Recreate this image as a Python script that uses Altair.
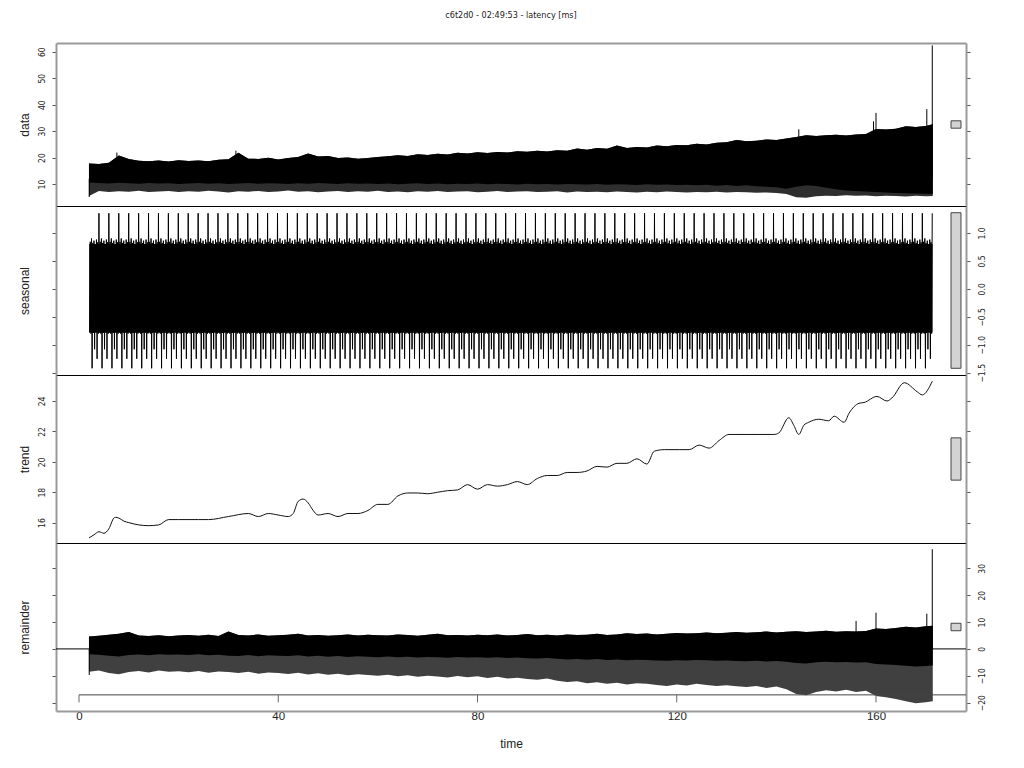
import altair as alt
import pandas as pd

# ---------------- values ----------------
t_env = list(range(2, 171, 2)) + [171.4]

data_hi = [17.8, 17.6, 18.0, 20.8, 19.5, 18.8, 18.6, 18.9, 18.5, 19.0,
           18.7, 18.9, 18.6, 19.2, 19.4, 21.8, 19.6, 19.5, 19.9, 19.3,
           19.8, 20.2, 21.5, 20.4, 20.6, 19.8, 20.0, 19.6, 19.8, 20.2,
           20.5, 20.9, 20.6, 21.3, 21.0, 21.4, 21.2, 21.8, 21.5, 22.0,
           21.7, 22.1, 21.9, 22.4, 22.2, 22.6, 22.3, 22.8, 22.6, 23.4,
           23.0, 23.6, 23.3, 24.6, 23.6, 24.0, 23.8, 24.6, 24.3, 24.8,
           24.7, 25.2, 24.9, 25.6, 25.8, 26.6, 26.2, 26.4, 26.8, 26.6,
           27.2, 27.8, 28.4, 28.2, 28.4, 28.6, 28.3, 28.7, 28.9, 30.8,
           30.6, 30.9, 31.8, 31.6, 31.9, 32.6]
data_core = [10.6, 10.4, 10.2, 10.5, 10.3, 10.1, 10.4, 10.2, 10.3, 10.0,
             10.2, 10.4, 10.1, 10.3, 10.0, 10.2, 10.4, 10.1, 10.3, 10.2,
             10.0, 10.3, 10.1, 10.4, 10.2, 10.0, 10.3, 10.1, 10.2, 10.0,
             10.2, 9.9, 10.1, 10.3, 10.0, 10.2, 9.9, 10.1, 10.0, 10.2,
             9.9, 10.1, 10.0, 9.8, 10.1, 9.9, 10.0, 9.8, 10.0, 9.9,
             9.8, 10.0, 9.7, 9.9, 9.8, 9.6, 9.9, 9.7, 9.8, 9.6,
             9.7, 9.5, 9.7, 9.4, 9.6, 9.3, 9.5, 9.2, 9.0, 8.8,
             8.2, 9.0, 9.5, 9.3, 8.6, 8.0, 7.6, 7.4, 7.2, 7.0,
             6.8, 6.6, 6.5, 6.4, 6.3, 6.2]
data_lo = [5.5, 7.4, 7.0, 7.3, 7.1, 7.5, 7.0, 7.2, 7.4, 7.0,
           7.3, 7.1, 7.5, 7.2, 6.8, 7.3, 7.1, 7.4, 7.0, 7.2,
           7.6, 7.1, 7.3, 6.9, 7.2, 7.4, 7.0, 7.3, 7.1, 7.5,
           7.0, 7.2, 6.9, 7.3, 7.1, 7.4, 7.0, 7.2, 7.3, 6.9,
           7.1, 7.4, 7.0, 7.2, 7.3, 7.0, 7.1, 7.3, 6.8, 7.2,
           7.0, 7.1, 6.9, 7.2, 7.0, 6.8, 7.1, 6.9, 7.2, 7.0,
           6.8, 7.0, 6.9, 7.1, 6.8, 7.0, 6.9, 6.7, 6.8, 6.6,
           6.2, 5.0, 4.8, 5.4, 5.6, 5.5, 5.8, 5.6, 5.7, 5.4,
           5.6, 5.5, 5.3, 5.6, 5.4, 5.5]
data_spike_t = [2.05, 7.6, 31.5, 144.5, 159.5, 160.0, 170.2, 171.3]
data_spike_v = [5.1, 21.9, 22.6, 30.7, 33.7, 36.9, 38.3, 62.4]

seasonal_shape = [1.35, -0.78, 0.84, -0.80, 0.90, -1.42, 0.82, -0.79,
                  0.86, -1.08, 0.80, -0.78, 0.88, -1.25, 0.83, -0.80]
seasonal_core_lo, seasonal_core_hi = -0.78, 0.80
seasonal_spike0 = 4.0
seasonal_period = 1.9916
seasonal_first = 2.05
seasonal_last = 171.35

trend_t = [2, 3, 4, 5, 6, 7, 7.3, 8, 9, 10, 12, 14, 16, 18, 20, 24, 26, 30, 34, 36,
           38, 40, 42, 43, 44, 45, 46, 47, 48, 50, 52, 54, 56, 58, 60, 62, 64, 66,
           68, 70, 72, 74, 76, 78, 80, 82, 84, 86, 88, 90, 92, 94, 96, 98, 100,
           102, 104, 106, 108, 110, 112, 114, 115.5, 117.5, 120.5, 122.5, 124.5,
           126.5, 128.5, 130.5, 132.5, 134.5, 136.5, 139.5, 140.5, 142.5, 143.5,
           144.5, 145.5, 146.5, 148.5, 150.5, 151.6, 153.6, 154.6, 156.6, 157.6,
           160.2, 162.2, 163.2, 165.7, 168.3, 169.3, 171.3]
trend_v = [14.99, 15.2, 15.4, 15.3, 15.6, 16.3, 16.35, 16.3, 16.1, 16.0, 15.85, 15.8,
           15.85, 16.2, 16.2, 16.2, 16.2, 16.4, 16.6, 16.4, 16.6, 16.5, 16.4, 16.6,
           17.4, 17.55, 17.3, 16.8, 16.5, 16.6, 16.4, 16.6, 16.6, 16.8, 17.2, 17.2,
           17.75, 17.95, 17.95, 17.9, 18.0, 18.1, 18.15, 18.5, 18.2, 18.5, 18.4,
           18.5, 18.7, 18.5, 18.9, 19.1, 19.1, 19.3, 19.3, 19.4, 19.7, 19.65, 19.9,
           19.9, 20.2, 19.85, 20.7, 20.8, 20.8, 20.8, 21.1, 20.9, 21.4, 21.8, 21.8,
           21.8, 21.8, 21.8, 21.9, 22.9, 22.4, 21.8, 22.4, 22.6, 22.8, 22.7, 23.0,
           22.6, 23.2, 23.85, 23.9, 24.3, 24.0, 24.2, 25.2, 24.6, 24.4, 25.3]

rem_hi = [4.6, 4.9, 5.3, 5.6, 6.3, 5.0, 4.8, 5.1, 4.7, 5.0,
          5.2, 4.9, 5.3, 4.8, 6.5, 5.2, 5.0, 5.4, 4.9, 5.1,
          5.3, 5.6, 5.0, 5.2, 4.9, 5.1, 5.4, 5.0, 5.3, 5.1,
          5.0, 5.4, 5.2, 4.9, 5.3, 5.6, 5.1, 5.2, 5.0, 5.3,
          5.1, 5.4, 5.0, 5.2, 5.5, 5.1, 5.3, 5.0, 5.4, 5.2,
          5.3, 5.6, 5.2, 5.4, 5.8, 5.5, 5.7, 5.4, 5.6, 5.9,
          5.7, 5.8, 6.1, 5.8, 6.0, 6.3, 6.0, 6.2, 6.5, 6.1,
          6.4, 6.6, 6.3, 6.5, 6.8, 6.4, 6.6, 6.5, 6.7, 7.6,
          7.4, 7.8, 8.2, 8.0, 8.4, 8.6]
rem_core = [-2.0, -2.2, -2.5, -2.8, -2.3, -2.1, -2.4, -2.0, -2.2, -2.1,
            -2.3, -2.0, -2.4, -2.2, -2.5, -2.6, -2.3, -2.7, -2.4, -2.5,
            -2.6, -2.4, -2.8, -2.5, -2.9, -2.6, -3.0, -2.7, -2.9, -3.1,
            -2.8, -3.1, -2.9, -3.2, -3.0, -3.1, -3.3, -3.0, -3.2, -3.1,
            -3.3, -3.1, -3.4, -3.2, -3.5, -3.6, -3.4, -3.7, -3.9, -3.8,
            -4.0, -3.8, -4.1, -3.9, -4.2, -4.0, -4.1, -4.3, -4.4, -4.2,
            -4.3, -4.1, -4.2, -4.4, -4.3, -4.5, -4.6, -4.4, -4.7, -4.5,
            -4.8, -5.2, -5.4, -5.0, -4.8, -5.0, -4.9, -5.1, -5.0, -5.6,
            -5.8, -6.0, -6.3, -6.5, -6.4, -6.2]
rem_lo = [-8.5, -8.0, -9.0, -9.4, -8.6, -8.2, -8.8, -8.0, -8.5, -8.3,
          -8.7, -8.2, -8.9, -8.4, -8.6, -9.0, -8.5, -9.2, -8.8, -9.0,
          -9.3, -8.9, -9.5, -9.1, -9.6, -9.2, -9.8, -9.4, -9.7, -10.0,
          -9.6, -10.2, -9.8, -10.4, -10.0, -10.3, -10.6, -10.1, -10.5, -10.2,
          -10.8, -10.4, -11.0, -10.7, -11.2, -11.5, -11.0, -11.8, -12.3, -12.0,
          -12.8, -12.4, -13.0, -12.6, -13.2, -12.8, -13.0, -13.4, -13.8, -13.2,
          -13.6, -13.0, -13.4, -13.8, -13.5, -13.9, -14.2, -13.8, -14.5, -14.0,
          -15.0, -16.8, -17.2, -16.0, -15.4, -15.8, -15.2, -16.0, -15.6, -17.5,
          -18.0, -18.6, -19.5, -20.2, -19.8, -19.5]
rem_spike_t = [2.05, 156.0, 160.0, 170.2, 171.3]
rem_spike_v = [-9.7, 10.4, 13.5, 13.1, 37.1]

x_ticks = [0, 40, 80, 120, 160]
data_ticks = [10, 20, 30, 40, 50, 60]
seasonal_ticks = [-1.5, -1.0, -0.5, 0.0, 0.5, 1.0]
trend_ticks = [16, 18, 20, 22, 24]
rem_ticks = [-20, -10, 0, 10, 20, 30]

# ---------------- layout / style ----------------
XMIN, XMAX = -4.62, 178.07
W = 910
H = [163, 169, 168, 168]
DOM_DATA = [1.7, 63.3]
DOM_SEAS = [-1.54, 1.48]
DOM_TREND = [14.66, 25.71]
DOM_REM = [-23.1, 39.4]
BAR_T0, BAR_T1 = 175.06, 177.06
BAR_HALF = 1.39
INNER_AXIS_Y, INNER_TICK_Y = -17.1, -19.9

LABEL_FONT = "Liberation Sans Narrow, DejaVu Sans Condensed, Liberation Sans, sans-serif"
TEXT_FONT = "Liberation Sans, Arial, sans-serif"
FRAME_GRAY = "#9a9a9a"

xs = alt.Scale(domain=[XMIN, XMAX], nice=False, zero=False)


def y_axis(side, values, fmt, show_labels, title, h):
    kw = dict(orient=side, values=values, format=fmt, labels=show_labels, grid=False,
              ticks=True, tickSize=4, tickColor="#555", tickWidth=1,
              domain=True, domainColor=FRAME_GRAY, domainWidth=2,
              labelAngle=270, labelAlign="center",
              labelBaseline="bottom" if side == "left" else "top",
              labelPadding=6 if side == "left" else 7,
              labelFont=LABEL_FONT, labelFontSize=8.5, labelColor="#222",
              labelOverlap=False, labelFlush=False)
    if title:
        kw.update(title=title, titleAngle=270, titleX=-32, titleY=h / 2,
                  titleAlign="center", titleBaseline="middle", titleFont=TEXT_FONT,
                  titleFontSize=12, titleFontWeight="normal", titleColor="#222")
    else:
        kw["title"] = None
    return alt.Axis(**kw)


def x_top(color, width):
    return alt.Axis(orient="top", domain=True, domainColor=color, domainWidth=width,
                    ticks=False, labels=False, grid=False, title=None)


x_bottom = alt.Axis(orient="bottom", values=x_ticks, domain=True, domainColor=FRAME_GRAY,
                    domainWidth=2, ticks=False, labelPadding=-1, labelFont=TEXT_FONT,
                    labelFontSize=11.5, labelColor="#222", labelFlush=False, grid=False,
                    title="time", titleFont=TEXT_FONT, titleFontSize=12,
                    titleFontWeight="normal", titleColor="#222", titlePadding=17)


def ysc(dom):
    return alt.Scale(domain=dom, nice=False, zero=False)


def range_bar(dom, axis, xaxis):
    mid = (dom[0] + dom[1]) / 2
    df = pd.DataFrame({"t0": [BAR_T0], "t1": [BAR_T1], "lo": [mid - BAR_HALF], "hi": [mid + BAR_HALF]})
    return alt.Chart(df).mark_rect(fill="#d3d3d3", stroke="#444", strokeWidth=1).encode(
        x=alt.X("t0:Q", scale=xs, axis=xaxis), x2="t1:Q",
        y=alt.Y("lo:Q", scale=ysc(dom), axis=axis), y2="hi:Q")


# ---------------- panel 1: data ----------------
env_d = pd.DataFrame({"t": t_env, "hi": data_hi, "core": data_core, "lo": data_lo})
sp_d = pd.DataFrame({"t": data_spike_t, "v": data_spike_v, "base": [12.0] * len(data_spike_t)})
xa1 = x_top(FRAME_GRAY, 2)
ya1 = y_axis("left", data_ticks, "d", True, "data", H[0])
yb1 = y_axis("right", data_ticks, "d", False, None, H[0])
g1 = alt.layer(
    alt.Chart(env_d).mark_area(color="#2e2e2e").encode(
        x=alt.X("t:Q", scale=xs, axis=xa1), y=alt.Y("lo:Q", scale=ysc(DOM_DATA), axis=ya1), y2="hi:Q"),
    alt.Chart(env_d).mark_area(color="black").encode(
        x=alt.X("t:Q", scale=xs, axis=xa1), y=alt.Y("core:Q", scale=ysc(DOM_DATA), axis=ya1), y2="hi:Q"),
    alt.Chart(sp_d).mark_rule(color="black", strokeWidth=1).encode(
        x=alt.X("t:Q", scale=xs, axis=xa1), y=alt.Y("v:Q", scale=ysc(DOM_DATA), axis=ya1), y2="base:Q"),
)
p1 = alt.layer(g1, range_bar(DOM_DATA, yb1, xa1)).resolve_scale(y="independent").properties(width=W, height=H[0])

# ---------------- panel 2: seasonal ----------------
s_t, s_v = [], []
n_shape = len(seasonal_shape)
for k in range(-2, 90):
    for j, v in enumerate(seasonal_shape):
        t = seasonal_spike0 + (k + j / n_shape) * seasonal_period
        if seasonal_first <= t <= seasonal_last:
            s_t.append(t)
            s_v.append(v)
seas = pd.DataFrame({"t": s_t, "v": s_v})
seas_core = pd.DataFrame({"t0": [seasonal_first], "t1": [seasonal_last],
                          "lo": [seasonal_core_lo], "hi": [seasonal_core_hi]})
xa2 = x_top("black", 1)
ya2 = y_axis("left", seasonal_ticks, ".1f", False, "seasonal", H[1])
yb2 = y_axis("right", seasonal_ticks, ".1f", True, None, H[1])
g2 = alt.layer(
    alt.Chart(seas_core).mark_rect(color="black").encode(
        x=alt.X("t0:Q", scale=xs, axis=xa2), x2="t1:Q",
        y=alt.Y("lo:Q", scale=ysc(DOM_SEAS), axis=ya2), y2="hi:Q"),
    alt.Chart(seas).mark_line(color="black", strokeWidth=1).encode(
        x=alt.X("t:Q", scale=xs, axis=xa2), y=alt.Y("v:Q", scale=ysc(DOM_SEAS), axis=ya2), order="t:Q"),
)
p2 = alt.layer(g2, range_bar(DOM_SEAS, yb2, xa2)).resolve_scale(y="independent").properties(width=W, height=H[1])

# ---------------- panel 3: trend ----------------
tr = pd.DataFrame({"t": trend_t, "v": trend_v})
xa3 = x_top("black", 1)
ya3 = y_axis("left", trend_ticks, "d", True, "trend", H[2])
yb3 = y_axis("right", trend_ticks, "d", False, None, H[2])
g3 = alt.layer(
    alt.Chart(tr).mark_line(color="#111", strokeWidth=1, interpolate="monotone").encode(
        x=alt.X("t:Q", scale=xs, axis=xa3), y=alt.Y("v:Q", scale=ysc(DOM_TREND), axis=ya3)),
)
p3 = alt.layer(g3, range_bar(DOM_TREND, yb3, xa3)).resolve_scale(y="independent").properties(width=W, height=H[2])

# ---------------- panel 4: remainder ----------------
env_r = pd.DataFrame({"t": t_env, "hi": rem_hi, "core": rem_core, "lo": rem_lo})
sp_r = pd.DataFrame({"t": rem_spike_t, "v": rem_spike_v, "base": [0.0] * len(rem_spike_t)})
zero_df = pd.DataFrame({"x0": [XMIN], "x1": [XMAX], "y": [0.0]})
inner_df = pd.DataFrame({"x0": [0.0], "x1": [XMAX], "y": [INNER_AXIS_Y]})
inner_ticks = pd.DataFrame({"t": x_ticks, "y0": [INNER_AXIS_Y] * len(x_ticks), "y1": [INNER_TICK_Y] * len(x_ticks)})
xa4 = x_top("black", 1)
ya4 = y_axis("left", rem_ticks, "d", False, "remainder", H[3])
yb4 = y_axis("right", rem_ticks, "d", True, None, H[3])
ysr = ysc(DOM_REM)
g4 = alt.layer(
    alt.Chart(zero_df).mark_rule(color="black", strokeWidth=1).encode(
        x=alt.X("x0:Q", scale=xs, axis=xa4), x2="x1:Q", y=alt.Y("y:Q", scale=ysr, axis=ya4)),
    alt.Chart(env_r).mark_area(color="#404040").encode(
        x=alt.X("t:Q", scale=xs, axis=xa4), y=alt.Y("lo:Q", scale=ysr, axis=ya4), y2="hi:Q"),
    alt.Chart(env_r).mark_area(color="black").encode(
        x=alt.X("t:Q", scale=xs, axis=xa4), y=alt.Y("core:Q", scale=ysr, axis=ya4), y2="hi:Q"),
    alt.Chart(sp_r).mark_rule(color="black", strokeWidth=1).encode(
        x=alt.X("t:Q", scale=xs, axis=xa4), y=alt.Y("v:Q", scale=ysr, axis=ya4), y2="base:Q"),
    alt.Chart(inner_df).mark_rule(color="#444", strokeWidth=1).encode(
        x=alt.X("x0:Q", scale=xs, axis=xa4), x2="x1:Q", y=alt.Y("y:Q", scale=ysr, axis=ya4)),
    alt.Chart(inner_ticks).mark_rule(color="#666", strokeWidth=1).encode(
        x=alt.X("t:Q", scale=xs, axis=xa4), y=alt.Y("y0:Q", scale=ysr, axis=ya4), y2="y1:Q"),
)
p4 = alt.layer(g4, range_bar(DOM_REM, yb4, x_bottom)).resolve_scale(
    y="independent", x="independent").properties(width=W, height=H[3])

chart = alt.vconcat(p1, p2, p3, p4, spacing=0, bounds="flush").properties(
    title=alt.TitleParams(text="c6t2d0 - 02:49:53 - latency [ms]", font=LABEL_FONT, fontSize=9,
                          fontWeight="normal", color="#222", anchor="middle", frame="group",
                          baseline="bottom", offset=14),
    padding={"left": 10, "top": 3, "right": 5, "bottom": 5},
    background="white",
).configure_view(strokeWidth=0)

chart.save("out.html", embed_options={"renderer": "svg", "actions": False})
